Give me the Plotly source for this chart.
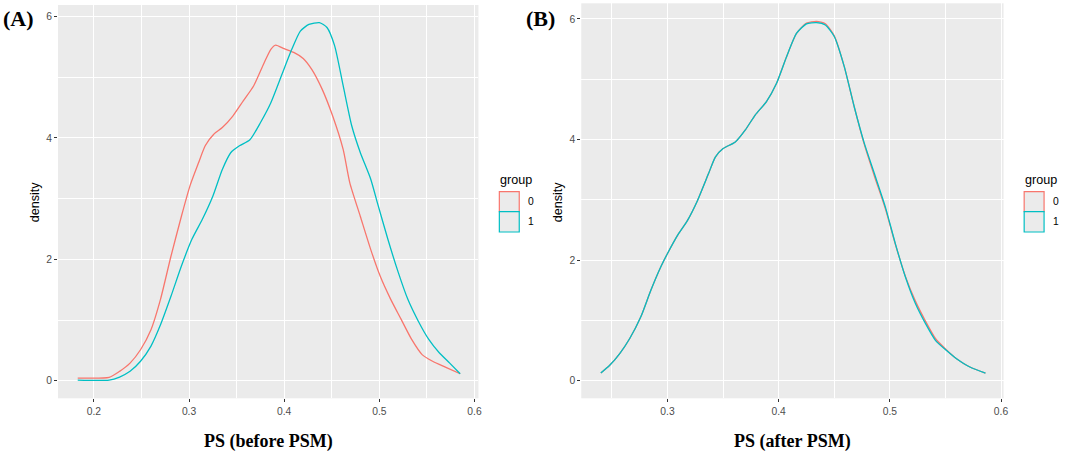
import plotly.graph_objects as go

# density curves
# (A) before PSM
x0_before = [0.183, 0.216, 0.227, 0.238, 0.249, 0.260, 0.270, 0.281, 0.292, 0.301,
             0.310, 0.317, 0.326, 0.335, 0.346, 0.357, 0.368, 0.379, 0.386, 0.391,
             0.400, 0.411, 0.420, 0.429, 0.440, 0.451, 0.462, 0.469, 0.480, 0.491,
             0.501, 0.512, 0.523, 0.534, 0.545, 0.556, 0.570, 0.585]
y0_before = [0.044, 0.055, 0.154, 0.29, 0.51, 0.84, 1.34, 2.05, 2.71, 3.21,
             3.59, 3.87, 4.06, 4.17, 4.36, 4.61, 4.86, 5.24, 5.46, 5.53,
             5.47, 5.40, 5.31, 5.13, 4.80, 4.36, 3.81, 3.26, 2.71, 2.16,
             1.72, 1.34, 1.01, 0.68, 0.43, 0.32, 0.22, 0.115]

x1_before = [0.183, 0.216, 0.227, 0.238, 0.249, 0.260, 0.270, 0.281, 0.292, 0.303,
             0.314, 0.325, 0.335, 0.344, 0.353, 0.364, 0.375, 0.386, 0.397, 0.408,
             0.417, 0.426, 0.437, 0.445, 0.453, 0.462, 0.471, 0.480, 0.491, 0.498,
             0.509, 0.520, 0.530, 0.541, 0.552, 0.563, 0.574, 0.585]
y1_before = [0.01, 0.01, 0.06, 0.154, 0.32, 0.57, 0.92, 1.39, 1.89, 2.33,
             2.66, 3.04, 3.48, 3.76, 3.87, 3.97, 4.25, 4.58, 5.02, 5.46,
             5.76, 5.87, 5.90, 5.82, 5.52, 4.86, 4.20, 3.76, 3.32, 2.93,
             2.33, 1.78, 1.34, 0.98, 0.68, 0.46, 0.29, 0.115]

# (B) after PSM
x_after = [0.240, 0.248, 0.257, 0.266, 0.276, 0.285, 0.294, 0.300, 0.309, 0.318,
           0.327, 0.337, 0.343, 0.350, 0.361, 0.370, 0.379, 0.389, 0.398, 0.407,
           0.416, 0.425, 0.434, 0.442, 0.450, 0.459, 0.468, 0.477, 0.486, 0.496,
           0.505, 0.514, 0.523, 0.532, 0.541, 0.551, 0.560, 0.572, 0.586]
y0_after = [0.127, 0.255, 0.45, 0.70, 1.06, 1.50, 1.89, 2.11, 2.41, 2.66,
            2.99, 3.44, 3.71, 3.85, 3.96, 4.16, 4.41, 4.63, 4.93, 5.37,
            5.76, 5.93, 5.96, 5.92, 5.72, 5.21, 4.54, 3.92, 3.40, 2.85,
            2.26, 1.73, 1.32, 0.99, 0.70, 0.51, 0.365, 0.227, 0.127]
y1_after = [0.127, 0.255, 0.45, 0.70, 1.06, 1.50, 1.89, 2.11, 2.41, 2.66,
            2.99, 3.44, 3.71, 3.85, 3.96, 4.16, 4.41, 4.63, 4.93, 5.37,
            5.76, 5.92, 5.94, 5.90, 5.71, 5.21, 4.54, 3.94, 3.44, 2.88,
            2.27, 1.72, 1.28, 0.95, 0.67, 0.50, 0.365, 0.227, 0.127]

groups = ["0", "1"]
colors = ["#F8766D", "#00BFC4"]

W, H = 1065, 453


def px(x):
    return x / W


def py(y):
    return 1 - y / H


fig = go.Figure()

fig.add_trace(go.Scatter(x=x0_before, y=y0_before, mode="lines", xaxis="x", yaxis="y",
                         line=dict(color=colors[0], width=1.3, shape="spline", smoothing=0.6),
                         showlegend=False))
fig.add_trace(go.Scatter(x=x1_before, y=y1_before, mode="lines", xaxis="x", yaxis="y",
                         line=dict(color=colors[1], width=1.3, shape="spline", smoothing=0.6),
                         showlegend=False))
fig.add_trace(go.Scatter(x=x_after, y=y0_after, mode="lines", xaxis="x2", yaxis="y2",
                         line=dict(color=colors[0], width=1.3, shape="spline", smoothing=0.6),
                         showlegend=False))
fig.add_trace(go.Scatter(x=x_after, y=y1_after, mode="lines", xaxis="x2", yaxis="y2",
                         line=dict(color=colors[1], width=1.3, shape="spline", smoothing=0.6),
                         showlegend=False))

tickfont = dict(family="Liberation Sans", size=10.3, color="#4D4D4D")
common_x = dict(dtick=0.1, tick0=0, ticks="outside", ticklen=3, tickcolor="#333333",
                tickwidth=1, tickfont=tickfont, showgrid=True, gridcolor="white", gridwidth=1.2,
                zeroline=False, showline=False,
                minor=dict(dtick=0.05, tick0=0, showgrid=True, gridcolor="white", gridwidth=0.6))
common_y = dict(dtick=2, tick0=0, ticks="outside", ticklen=3, tickcolor="#333333",
                tickwidth=1, tickfont=tickfont, showgrid=True, gridcolor="white", gridwidth=1.2,
                zeroline=False, showline=False,
                minor=dict(dtick=1, tick0=0, showgrid=True, gridcolor="white", gridwidth=0.6))

fig.update_layout(
    width=W, height=H,
    margin=dict(l=0, r=0, t=0, b=0),
    paper_bgcolor="white",
    plot_bgcolor="#EBEBEB",
    showlegend=False,
    xaxis=dict(common_x, domain=[px(58.3), px(480.7)], range=[0.1623, 0.6042], anchor="y"),
    yaxis=dict(common_y, domain=[py(398.3), py(5)], range=[-0.29, 6.19], anchor="x"),
    xaxis2=dict(common_x, domain=[px(584), px(1008.3)], range=[0.2224, 0.6023], anchor="y2"),
    yaxis2=dict(common_y, domain=[py(398.3), py(3.3)], range=[-0.292, 6.26], anchor="x2"),
)

shapes = []
annotations = []

# panel labels, axis titles, hand-built ggplot style legends
panels = [
    dict(tag="(A)", tag_x=1.5, xtitle="PS (before PSM)", xtitle_cx=269.5, ytitle_cx=36, leg_x=501.7),
    dict(tag="(B)", tag_x=526.5, xtitle="PS (after PSM)", xtitle_cx=796, ytitle_cx=561.5, leg_x=1029),
]
for p in panels:
    annotations.append(dict(text="<b>%s</b>" % p["tag"], x=px(p["tag_x"]), y=py(18.5),
                            xref="paper", yref="paper", xanchor="left", yanchor="middle",
                            showarrow=False,
                            font=dict(family="Liberation Serif", size=22, color="black")))
    annotations.append(dict(text="<b>%s</b>" % p["xtitle"], x=px(p["xtitle_cx"]), y=py(441),
                            xref="paper", yref="paper", xanchor="center", yanchor="middle",
                            showarrow=False,
                            font=dict(family="Liberation Serif", size=18, color="black")))
    annotations.append(dict(text="density", x=px(p["ytitle_cx"]), y=py(201.5), textangle=-90,
                            xref="paper", yref="paper", xanchor="center", yanchor="middle",
                            showarrow=False,
                            font=dict(family="Liberation Sans", size=12.6, color="black")))
    lx = p["leg_x"]
    annotations.append(dict(text="group", x=px(lx - 1), y=py(180), xref="paper", yref="paper",
                            xanchor="left", yanchor="middle", showarrow=False,
                            font=dict(family="Liberation Sans", size=12.6, color="black")))
    tops = [191.7, 211.7]
    bottoms = [211.7, 232]
    for g, c, t, b in zip(groups, colors, tops, bottoms):
        shapes.append(dict(type="rect", xref="paper", yref="paper",
                           x0=px(lx), x1=px(lx + 20), y0=py(b), y1=py(t),
                           fillcolor="#EBEBEB", line=dict(color=c, width=1.2)))
        annotations.append(dict(text=g, x=px(lx + 27), y=py((t + b) / 2), xref="paper",
                                yref="paper", xanchor="left", yanchor="middle", showarrow=False,
                                font=dict(family="Liberation Sans", size=10.3, color="black")))

fig.update_layout(shapes=shapes, annotations=annotations)

# page body has a default 8px margin; drop it so the figure sits in the window corner
fig.write_html("out.html", config={"displayModeBar": False},
               post_script="document.body.style.margin='0';")
